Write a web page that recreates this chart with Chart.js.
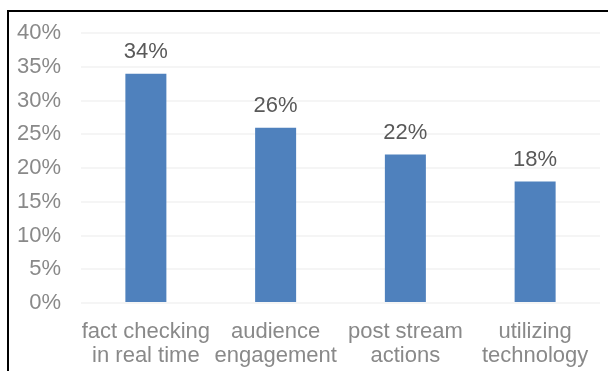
<!DOCTYPE html>
<html lang="en">
<head>
    <meta charset="UTF-8">
    <title>Live Stream Priorities</title>
    <script src="https://cdn.jsdelivr.net/npm/chart.js"></script>
    <style>
        html, body {
            margin: 0;
            padding: 0;
            background: #fff;
        }
        .wrap {
            position: relative;
            width: 608px;
            height: 371px;
        }
        .frame {
            position: absolute;
            left: 7px;
            top: 10px;
            right: 0;
            bottom: 0;
            border-top: 2px solid #000;
            border-left: 2px solid #000;
            pointer-events: none;
        }
        canvas {
            position: absolute;
            left: 0;
            top: 0;
        }
    </style>
</head>
<body>
    <div class="wrap">
        <canvas id="chart" width="608" height="371"></canvas>
        <div class="frame"></div>
    </div>

    <script>
        const categories = [
            ['fact checking', 'in real time'],
            ['audience', 'engagement'],
            ['post stream', 'actions'],
            ['utilizing', 'technology']
        ];
        const shares = [34, 26, 22, 18];
        const yTicks = [0, 5, 10, 15, 20, 25, 30, 35, 40];

        const FONT = '"Liberation Sans", Arial, sans-serif';

        // value labels above each bar
        const barLabels = {
            id: 'barLabels',
            afterDatasetsDraw(chart) {
                const ctx = chart.ctx;
                const meta = chart.getDatasetMeta(0);
                ctx.save();
                ctx.font = '22px ' + FONT;
                ctx.fillStyle = '#595959';
                ctx.textAlign = 'center';
                ctx.textBaseline = 'middle';
                meta.data.forEach((bar, i) => {
                    ctx.fillText(shares[i] + '%', bar.x, bar.y - 22);
                });
                ctx.restore();
            }
        };

        new Chart(document.getElementById('chart'), {
            type: 'bar',
            data: {
                labels: categories,
                datasets: [{
                    data: shares,
                    backgroundColor: '#4f81bd',
                    barPercentage: 0.316,
                    categoryPercentage: 1
                }]
            },
            options: {
                responsive: false,
                animation: false,
                layout: { padding: { top: 33, right: 8, left: 0, bottom: 0 } },
                plugins: {
                    legend: { display: false },
                    tooltip: { enabled: false }
                },
                scales: {
                    x: {
                        grid: { display: false },
                        border: { display: false },
                        ticks: {
                            color: '#898989',
                            padding: 9,
                            maxRotation: 0,
                            autoSkip: false,
                            font: { family: FONT, size: 22, lineHeight: 1.1 }
                        },
                        afterFit(scale) { scale.height = 68; }
                    },
                    y: {
                        min: 0,
                        max: 40,
                        afterBuildTicks(scale) {
                            scale.ticks = yTicks.map(v => ({ value: v }));
                        },
                        grid: { color: '#f5f5f5', lineWidth: 2, drawTicks: false },
                        border: { display: false },
                        ticks: {
                            color: '#898989',
                            padding: 20,
                            font: { family: FONT, size: 22 },
                            callback: v => v + '%'
                        },
                        afterFit(scale) { scale.width = 81; }
                    }
                }
            },
            plugins: [barLabels]
        });
    </script>
</body>
</html>
